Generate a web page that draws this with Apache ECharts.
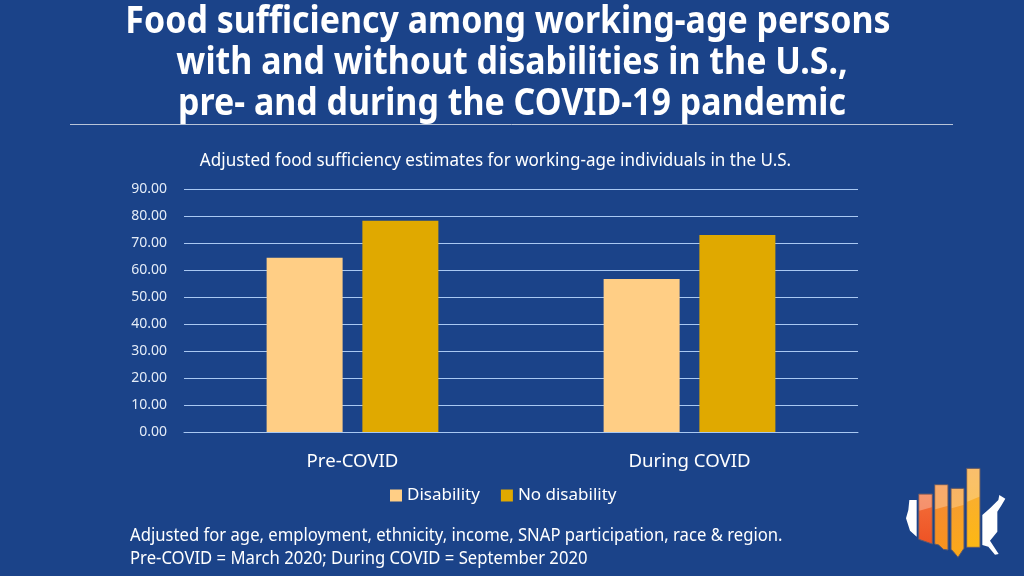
<!DOCTYPE html>
<html><head><meta charset="utf-8">
<style>html,body{margin:0;padding:0;background:#1b4389}#c{width:1024px;height:576px}</style>
<script src="https://cdn.jsdelivr.net/npm/echarts@6/dist/echarts.min.js"></script>
</head><body><div id="c"></div>
<script>
const categories = ['Pre-COVID', 'During COVID'];
const disability = [64.5, 56.7];
const noDisability = [78.2, 73.0];
const yTicks = [0, 90, 10];
const titleLines = ['Food sufficiency among working-age persons', 'with and without disabilities in the U.S.,', 'pre- and during the COVID-19 pandemic'];
const subtitle = 'Adjusted food sufficiency estimates for working-age individuals in the U.S.';
const footLines = ['Adjusted for age, employment, ethnicity, income, SNAP participation, race & region.', 'Pre-COVID = March 2020; During COVID = September 2020'];
const F = '"Noto Sans"';
const txt = (x, y, s, size, o) => ({type:'text', x, y, scaleX:(o&&o.sx)||1, style:{text:s, fill:'#fff', font:((o&&o.w)||'normal')+' '+size+'px '+F, textAlign:(o&&o.a)||'left', textVerticalAlign:'middle'}});
const vgrad = (a, b) => new echarts.graphic.LinearGradient(0,0,0,1,[{offset:0,color:a},{offset:1,color:b}]);
const poly = (points, fill, stroke) => ({type:'polygon', shape:{points}, style:{fill, stroke:stroke||'none', lineWidth:stroke?3:0}});
const logo = {type:'group', x:890, y:450, scaleX:1/3, scaleY:1/3, children:[
  poly([[58,150],[80,150],[80,260],[60,242],[48,205],[55,180]], '#fff'),
  poly([[277,195],[300,175],[325,150],[328,135],[346,146],[335,165],[322,185],[322,245],[300,272],[326,312],[315,314],[295,290],[277,285]], '#fff'),
  poly([[86,132],[127,132],[127,282],[86,268]], vgrad('#f36f3a','#ee5224'), '#5d5a6e'),
  poly([[134,104],[174,104],[174,300],[160,298],[146,285],[134,282]], vgrad('#f58a36','#f8931d'), '#5d5a6e'),
  poly([[183,115],[222,115],[222,295],[204,322],[190,305],[183,298]], vgrad('#f59a33','#fba919'), '#5d5a6e'),
  poly([[230,55],[270,55],[270,292],[230,292]], vgrad('#f8a93c','#fdb813'), '#5d5a6e'),
  poly([[88,134],[125,134],[125,172],[88,182]], 'rgba(255,255,255,0.28)'),
  poly([[136,106],[172,106],[172,168],[136,178]], 'rgba(255,255,255,0.28)'),
  poly([[185,117],[220,117],[220,165],[185,175]], 'rgba(255,255,255,0.25)'),
  poly([[232,57],[268,57],[268,140],[232,155]], 'rgba(255,255,255,0.25)')
]};
const chart = echarts.init(document.getElementById('c'), null, {renderer:'canvas'});
chart.setOption({
  backgroundColor:'#1b4389', animation:false,
  grid:{left:184, right:166, top:189, bottom:144},
  legend:{top:482, left:385, itemWidth:12, itemHeight:12, itemGap:21, icon:'rect', textStyle:{color:'#fff', fontFamily:F, fontSize:17}, data:['Disability','No disability']},
  xAxis:{type:'category', data:categories, axisLine:{lineStyle:{color:'#a9c8f2'}}, axisTick:{show:false}, axisLabel:{color:'#fff', fontFamily:F, fontSize:18.6, margin:20}},
  yAxis:{type:'value', min:yTicks[0], max:yTicks[1], interval:yTicks[2], axisLine:{show:false}, axisTick:{show:false}, splitLine:{lineStyle:{color:'#a9c8f2', width:1}}, axisLabel:{color:'#e4ecf7', fontFamily:F, fontSize:14, margin:17, padding:[2,0,0,0], formatter:v=>v.toFixed(2)}},
  series:[
    {name:'Disability', type:'bar', data:disability, barWidth:76, barGap:'26%', itemStyle:{color:'#ffce85'}},
    {name:'No disability', type:'bar', data:noDisability, barWidth:76, itemStyle:{color:'#e0a900'}}
  ],
  graphic:[
    txt(508,22,titleLines[0],37,{w:'bold',a:'center',sx:0.917}),
    txt(512,63,titleLines[1],37,{w:'bold',a:'center',sx:0.917}),
    txt(512,104,titleLines[2],37,{w:'bold',a:'center',sx:0.917}),
    {type:'line', shape:{x1:70,y1:124.5,x2:953,y2:124.5}, style:{stroke:'#b8c4d8', lineWidth:1}},
    txt(495.5,161,subtitle,18,{a:'center',sx:0.947}),
    txt(130,536,footLines[0],18,{sx:0.926}),
    txt(130,559,footLines[1],18,{sx:0.926}),
    logo
  ]
});
</script></body></html>
